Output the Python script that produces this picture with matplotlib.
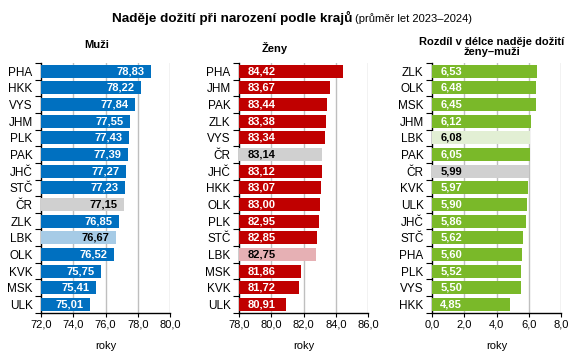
import numpy as np
import matplotlib
matplotlib.use('Agg')
import matplotlib.pyplot as plt

plt.rcParams['font.family'] = ['Liberation Sans', 'DejaVu Sans']

# Data
men_regions = ['PHA', 'HKK', 'VYS', 'JHM', 'PLK', 'PAK', 'JHČ', 'STČ', 'ČR', 'ZLK', 'LBK', 'OLK', 'KVK', 'MSK', 'ULK']
men_values = [78.83, 78.22, 77.84, 77.55, 77.43, 77.39, 77.27, 77.23, 77.15, 76.85, 76.67, 76.52, 75.75, 75.41, 75.01]

women_regions = ['PHA', 'JHM', 'PAK', 'ZLK', 'VYS', 'ČR', 'JHČ', 'HKK', 'OLK', 'PLK', 'STČ', 'LBK', 'MSK', 'KVK', 'ULK']
women_values = [84.42, 83.67, 83.44, 83.38, 83.34, 83.14, 83.12, 83.07, 83.00, 82.95, 82.85, 82.75, 81.86, 81.72, 80.91]

diff_regions = ['ZLK', 'OLK', 'MSK', 'JHM', 'LBK', 'PAK', 'ČR', 'KVK', 'ULK', 'JHČ', 'STČ', 'PHA', 'PLK', 'VYS', 'HKK']
diff_values = [6.53, 6.48, 6.45, 6.12, 6.08, 6.05, 5.99, 5.97, 5.90, 5.86, 5.62, 5.60, 5.52, 5.50, 4.85]

W, H = 581, 359
fig = plt.figure(figsize=(W / 100, H / 100), dpi=100)


def fmt(v, d):
    return f'{v:.{d}f}'.replace('.', ',')


def panel(left_px, regions, values, xlim, ticks, main, light, align):
    ax = fig.add_axes([left_px / W, (H - 312.7) / H, 129 / W, 249.7 / H])
    n = len(regions)
    y = np.arange(n)
    colors = []
    for r in regions:
        if r == 'ČR':
            colors.append('#D0D0D0')
        elif r == 'LBK':
            colors.append(light)
        else:
            colors.append(main)
    ax.barh(y, np.array(values) - xlim[0], left=xlim[0], height=0.78, color=colors, zorder=3)
    ax.set_xlim(*xlim)
    ax.set_ylim(n - 0.5, -0.5)
    ax.set_xticks(ticks)
    ax.set_xticklabels([fmt(t, 1) for t in ticks], fontsize=8)
    ax.set_yticks(y)
    ax.set_yticklabels(regions, fontsize=8.5)
    ax.tick_params(axis='y', length=0, pad=6)
    ax.set_yticks(np.arange(n + 1) - 0.5, minor=True)
    ax.tick_params(axis='y', which='minor', length=4, width=0.8)
    ax.tick_params(axis='x', length=3, width=0.8, pad=2)
    # gray vertical gridlines
    for t in ticks[1:]:
        ax.axvline(t, color='#BFBFBF', lw=1, zorder=1)
    for s in ['top', 'right']:
        ax.spines[s].set_visible(False)
    for s in ['left', 'bottom']:
        ax.spines[s].set_linewidth(1)
    ax.set_xlabel('roky', fontsize=8, labelpad=8)
    span = xlim[1] - xlim[0]
    for yi, v, c in zip(y, values, colors):
        tc = 'white' if c == main else 'black'
        if align == 'right':
            ax.text(v - span * 0.05, yi, fmt(v, 2), ha='right', va='center',
                    fontsize=8, fontweight='bold', color=tc, zorder=4)
        else:
            ax.text(xlim[0] + span * 0.063, yi, fmt(v, 2), ha='left', va='center',
                    fontsize=8, fontweight='bold', color=tc, zorder=4)
    return ax


panel(41, men_regions, men_values, (72, 80), [72, 74, 76, 78, 80], '#0070C0', '#A6CBE6', 'right')
panel(239, women_regions, women_values, (78, 86), [78, 80, 82, 84, 86], '#C00000', '#E6B0B4', 'left')
panel(432, diff_regions, diff_values, (0, 8), [0, 2, 4, 6, 8], '#7AB929', '#E2EFD4', 'left')

# Titles
fig.text(352 / W, 1 - 17.5 / H, 'Naděje dožití při narození podle krajů', ha='right', va='center',
         fontsize=9.7, fontweight='bold')
fig.text(355 / W, 1 - 18.5 / H, '(průměr let 2023–2024)', ha='left', va='center', fontsize=8)
fig.text(97 / W, 1 - 45.5 / H, 'Muži', ha='center', va='center', fontsize=8, fontweight='bold')
fig.text(275 / W, 1 - 47.5 / H, 'Ženy', ha='center', va='center', fontsize=8, fontweight='bold')
fig.text(492 / W, 1 - 47 / H, 'Rozdíl v délce naděje dožití\nženy–muži', ha='center', va='center',
         fontsize=8, fontweight='bold', linespacing=1.05)

fig.savefig('out.png', dpi=100)
